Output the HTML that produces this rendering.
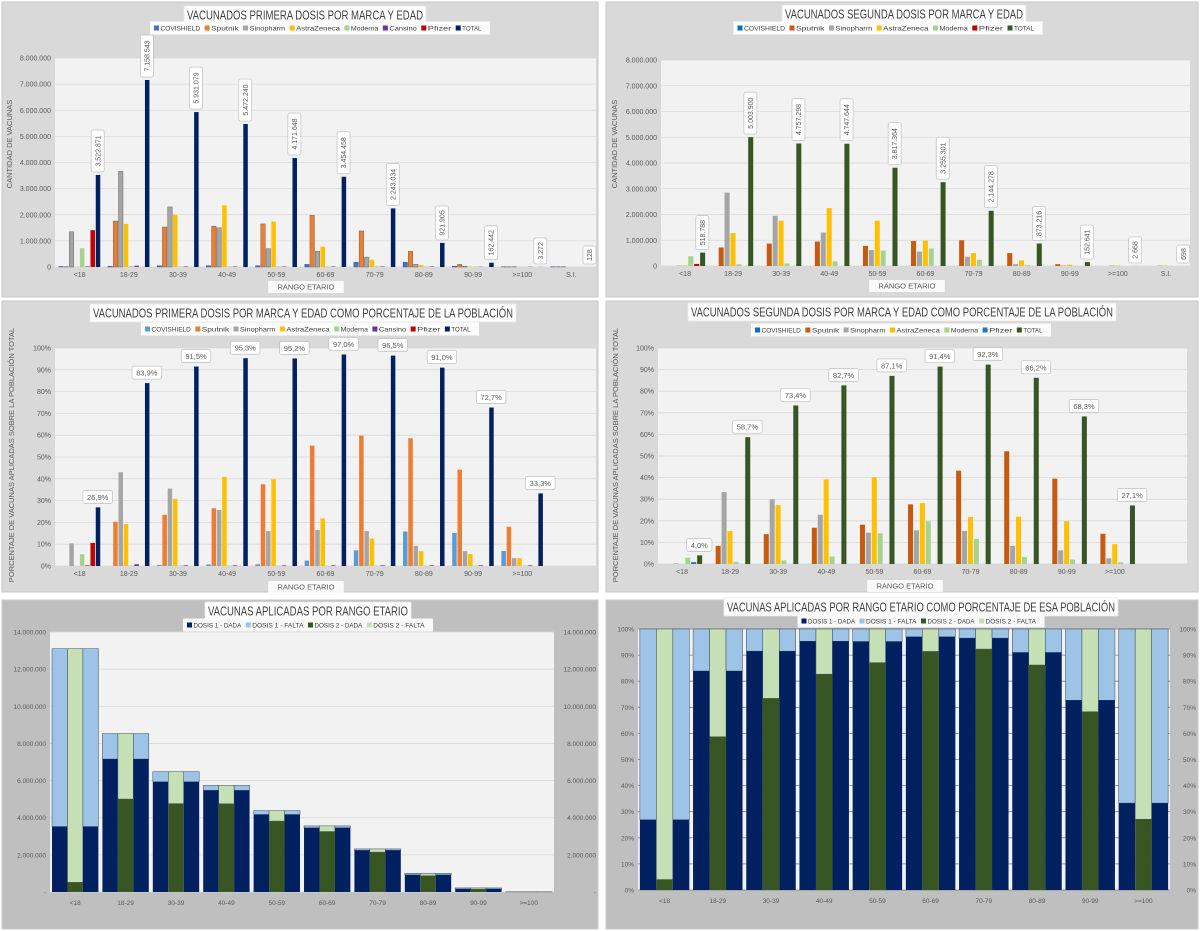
<!DOCTYPE html>
<html><head><meta charset="utf-8">
<style>
html,body{margin:0;padding:0;background:#fff;}
svg{display:block;font-family:"Liberation Sans",sans-serif;}
</style></head>
<body>
<svg id="s" width="1200" height="931" viewBox="0 0 1200 931" xmlns="http://www.w3.org/2000/svg">
<rect x="0" y="0" width="1200" height="931" fill="#ffffff"/>
</svg>
<script>
// ---- data ----
const cats11 = ['<18','18-29','30-39','40-49','50-59','60-69','70-79','80-89','90-99','>=100','S.I.'];
const cats10 = ['<18','18-29','30-39','40-49','50-59','60-69','70-79','80-89','90-99','>=100'];
const d1Covishield = [20000,30000,50000,50000,50000,100000,180000,180000,30000,10000,10000];
const d1Sputnik = [10000,1760000,1530000,1560000,1650000,1980000,1380000,600000,100000,10000,10000];
const d1Sinopharm = [1350000,3660000,2300000,1500000,700000,600000,380000,100000,30000,10000,10000];
const d1Astra = [10000,1650000,2000000,2360000,1740000,780000,280000,70000,20000,5000,0];
const d1Moderna = [720000,30000,20000,20000,20000,20000,30000,20000,20000,10000,0];
const d1Cansino = [20000,50000,20000,20000,20000,20000,20000,20000,10000,10000,0];
const d1Pfizer = [1410000,0,0,0,0,0,0,0,0,0,0];
const d1Total = [3522871,7158543,5931079,5472240,4171648,3454458,2243034,921905,162442,3272,128];
const d2Covishield = [0,0,0,0,0,0,0,0,0,0,0];
const d2Sputnik = [0,720000,870000,950000,780000,970000,1000000,500000,70000,0,0];
const d2Sinopharm = [20000,2850000,1950000,1300000,620000,560000,360000,70000,20000,20000,20000];
const d2Astra = [20000,1280000,1760000,2250000,1760000,980000,500000,220000,50000,20000,20000];
const d2Moderna = [380000,70000,100000,180000,600000,680000,240000,30000,10000,0,0];
const d2Pfizer = [80000,0,0,0,0,0,0,0,0,0,0];
const d2Total = [518788,5003900,4757298,4747644,3817364,3255301,2144278,873216,152641,2668,698];
const p1Covishield = [0,0,0.5,0.7,0.8,2.5,7.2,15.8,15.2,6.9];
const p1Sputnik = [0,20.3,23.5,26.5,37.5,55.2,59.8,58.6,44.2,18];
const p1Sinopharm = [10.4,43,35.5,25.7,16,16.5,16,9.2,6.8,3.6];
const p1Astra = [0,19.2,30.8,40.9,39.8,21.8,12.6,6.8,5.5,3.6];
const p1Moderna = [5.4,0.3,0.2,0.2,0.2,0.2,0.2,0.2,0.2,0.2];
const p1Cansino = [0.3,0.8,0.3,0.3,0.3,0.3,0.3,0.3,0.3,0.3];
const p1Pfizer = [10.6,0,0,0,0,0,0,0,0,0];
const p1Total = [26.9,83.9,91.5,95.3,95.2,97.0,96.5,91.0,72.7,33.3];
const p2Covishield = [0,0,0,0,0,0,0,0,0,0];
const p2Sputnik = [0,8.4,13.8,16.8,18.2,27.6,43.2,52.2,39.5,14];
const p2Sinopharm = [0.3,33.3,29.9,22.8,14.5,15.6,15.3,8.4,6.3,2.6];
const p2Astra = [0,15.3,27.3,39.2,40.2,28.2,21.8,21.9,19.8,9.2];
const p2Moderna = [2.9,1,1.7,3.5,14.2,19.8,11.6,3.2,2.1,0.8];
const p2Pfizer = [0.9,0,0,0,0,0,0,0,0,0];
const p2Total = [4.0,58.7,73.4,82.7,87.1,91.4,92.3,86.2,68.3,27.1];
const population = [13100000,8530000,6480000,5740000,4380000,3560000,2320000,1010000,220000,10000];
const ticksCount = [0,1000000,2000000,3000000,4000000,5000000,6000000,7000000,8000000];
const ticksPct = [0,10,20,30,40,50,60,70,80,90,100];
const ticksPop = [0,2000000,4000000,6000000,8000000,10000000,12000000,14000000];

const C = {cov:'#5b9bd5',spu:'#ed7d31',spu2:'#c55a11',sin:'#a5a5a5',ast:'#ffc000',mod:'#a9d18e',can:'#7030a0',pfi:'#c00000',pfi2:'#2e75b6',nav:'#002060',grn:'#375623',nf:'#9dc3e6',gf:'#c5e0b4'};
const NS='http://www.w3.org/2000/svg';
const svg=document.getElementById('s');
function el(tag,attrs,parent,txt){const e=document.createElementNS(NS,tag);for(const k in attrs)e.setAttribute(k,attrs[k]);if(txt!==undefined)e.textContent=txt;(parent||svg).appendChild(e);return e;}
function dots(n){return Math.round(n).toString().replace(/\B(?=(\d{3})+(?!\d))/g,'.');}

function panel(x,y,w,h,fill,name){const r=el('rect',{x:x,y:y,width:w,height:h,fill:fill,stroke:'#c8c8c8'});

}

function title(cx,cy,text,w,name){
  el('rect',{x:cx-w/2-3,y:cy-9,width:w+6,height:18,fill:'#ffffff',stroke:'#e6e6e6','stroke-width':0.8});
  const t=el('text',{x:cx-w/2,y:cy+4.5,'font-size':12.5,fill:'#404040',textLength:w,lengthAdjust:'spacingAndGlyphs'},null,text);
  
  
}
function legend(cx,cy,total,items){
  const fs=6.8;
  const chars=items.reduce((a,it)=>a+it[0].length,0);
  const inner=total-8;
  const per=(inner-items.length*10)/chars;
  let x=cx-total/2;
  el('rect',{x:x,y:cy-6.5,width:total,height:13,fill:'#ffffff',opacity:0.9});
  x+=4;
  items.forEach((it)=>{
    const g=el('g',{});
    
    
    el('rect',{x:x,y:cy-2.5,width:5,height:5,fill:it[1]},g);
    const tw=it[0].length*per-1;
    el('text',{x:x+6.5,y:cy+2.5,'font-size':fs,fill:'#404040',textLength:tw,lengthAdjust:'spacingAndGlyphs'},g,it[0]);
    x+=10+it[0].length*per;
  });
}

function chart(cfg){
  const {left,right,top,bottom,max,slots,cats,ticks,tickFmt}=cfg;
  const y=v=>bottom-(v/max)*(bottom-top);
  const band=(right-left)/slots;
  const cx=i=>left+band*(i+0.5);
  const pa=el('rect',{x:left,y:top,width:right-left,height:bottom-top,fill:'#f2f2f2'});
  
  
  ticks.forEach(t=>{
    el('line',{x1:left,x2:right,y1:y(t),y2:y(t),stroke:cfg.gridColor||'#d9d9d9','stroke-width':0.8});
    const lab=el('text',{x:left-4,y:y(t)+2.5,'font-size':cfg.tfs||7,'text-anchor':'end',fill:'#595959'},null,tickFmt(t));
    
    
    if(cfg.rightAxis){
      const lab2=el('text',{x:right+cfg.rightAxis,y:y(t)+2.5,'font-size':cfg.tfs||7,'text-anchor':'end',fill:'#595959'},null,tickFmt(t));
      
      
    }
  });
  cats.forEach((c,i)=>{
    const t=el('text',{x:cx(i),y:bottom+(cfg.lblOff||10),'font-size':cfg.tfs||7,'text-anchor':'middle',fill:'#595959'},null,c);
    
    
  });
  return {y,cx,band};
}

function grouped(cfg){
  const ax=chart(cfg);
  const n=cfg.series.length;
  const gw=ax.band*cfg.gf;
  const bw=gw/n;
  cfg.series.forEach((s,si)=>{
    s.vals.forEach((v,i)=>{
      const x=ax.cx(i)-gw/2+si*bw;
      const yt=ax.y(v);
      const r=el('rect',{x:x+0.3,y:yt,width:bw*0.85,height:Math.max(0,cfg.bottom-yt),fill:s.color,stroke:s.stroke||'none','stroke-width':0.4});
      
      
      if(s.labels){
        const txt=s.labels(v);
        const bx=x+bw*0.42;
        if(cfg.rotLabels){
          const L=txt.length*4.0+6;
          const rr=el('rect',{x:bx-6.5,y:yt-3-L,width:13,height:L,fill:'#fff',stroke:'#bfbfbf','stroke-width':0.7,rx:2});
          
          
          const cy=yt-3-L/2;
          const t=el('text',{x:bx+2.6,y:cy,'font-size':7,'text-anchor':'middle',fill:'#595959',transform:'rotate(-90 '+(bx+2.6)+' '+cy+')'},null,txt);
          
          
        } else {
          const L=txt.length*4.3+8;
          const rr=el('rect',{x:bx-L/2,y:yt-17,width:L,height:13,fill:'#fff',stroke:'#bfbfbf','stroke-width':0.7,rx:2});
          
          
          const t=el('text',{x:bx,y:yt-7.5,'font-size':7.5,'text-anchor':'middle',fill:'#595959'},null,txt);
          
          
        }
      }
    });
  });
}

function axisTitles(xt,xcx,xcy,yt,ycx,ycy){
  const w=xt.length*5.2+8;
  el('rect',{x:xcx-w/2,y:xcy-6,width:w,height:12,fill:'#fff',opacity:0.85});
  const a=el('text',{x:xcx,y:xcy+2.5,'font-size':7.5,'text-anchor':'middle',fill:'#595959'},null,xt);
  
  
  const b=el('text',{x:ycx,y:ycy,'font-size':7.5,'text-anchor':'middle',fill:'#595959',transform:'rotate(-90 '+ycx+' '+ycy+')'},null,yt);
  
  
}

// panels
panel(2,2,596,295,'#d9d9d9','panel-first-dose');
panel(606,2,592,295,'#d9d9d9','panel-second-dose');
panel(2,301,596,291,'#d9d9d9','panel-first-dose-pct');
panel(606,301,592,291,'#d9d9d9','panel-second-dose-pct');
panel(2,600,596,329,'#bfbfbf','panel-applied');
panel(606,600,592,329,'#bfbfbf','panel-applied-pct');

// chart 1
grouped({name:'first-dose',left:55,right:596,top:58,bottom:267,max:8000000,slots:11,cats:cats11,gf:0.86,ticks:ticksCount,tickFmt:v=>v?dots(v):'0',rotLabels:true,
 series:[{name:'covishield',color:'#4472c4',vals:d1Covishield,stroke:'#2f4f8f'},{name:'sputnik',color:C.spu,vals:d1Sputnik,stroke:'#555'},{name:'sinopharm',color:C.sin,vals:d1Sinopharm,stroke:'#555'},{name:'astrazeneca',color:C.ast,vals:d1Astra},{name:'moderna',color:C.mod,vals:d1Moderna},{name:'cansino',color:C.can,vals:d1Cansino},{name:'pfizer',color:C.pfi,vals:d1Pfizer},{name:'total',color:C.nav,vals:d1Total,labels:v=>dots(v)}]});
title(305,15,'VACUNADOS PRIMERA DOSIS POR MARCA Y EDAD',236,'chart-title-1');
legend(320,28,340,[['COVISHIELD','#4472c4'],['Sputnik',C.spu],['Sinopharm',C.sin],['AstraZeneca',C.ast],['Moderna',C.mod],['Cansino',C.can],['Pfizer',C.pfi],['TOTAL',C.nav]]);
axisTitles('RANGO  ETARIO',306,287,'CANTIDAD  DE  VACUNAS',12,144);

// chart 2
grouped({name:'second-dose',left:661,right:1190,top:60,bottom:266,max:8000000,slots:11,cats:cats11,gf:0.86,ticks:ticksCount,tickFmt:v=>v?dots(v):'0',rotLabels:true,
 series:[{name:'covishield',color:'#0070c0',vals:d2Covishield},{name:'sputnik',color:C.spu2,vals:d2Sputnik},{name:'sinopharm',color:C.sin,vals:d2Sinopharm},{name:'astrazeneca',color:C.ast,vals:d2Astra},{name:'moderna',color:C.mod,vals:d2Moderna},{name:'pfizer',color:C.pfi,vals:d2Pfizer},{name:'total',color:C.grn,vals:d2Total,labels:v=>dots(v)}]});
title(904,14,'VACUNADOS SEGUNDA DOSIS POR MARCA Y EDAD',238,'chart-title-2');
legend(888,28,309,[['COVISHIELD','#0070c0'],['Sputnik',C.spu2],['Sinopharm',C.sin],['AstraZeneca',C.ast],['Moderna',C.mod],['Pfizer',C.pfi],['TOTAL',C.grn]]);
axisTitles('RANGO  ETARIO',907,286,'CANTIDAD  DE  VACUNAS',617,144);

// chart 3
grouped({name:'first-dose-pct',left:55,right:596,top:348,bottom:566,max:100,slots:11,cats:cats10,gf:0.86,ticks:ticksPct,tickFmt:v=>v+'%',
 series:[{name:'covishield',color:C.cov,vals:p1Covishield},{name:'sputnik',color:C.spu,vals:p1Sputnik},{name:'sinopharm',color:C.sin,vals:p1Sinopharm},{name:'astrazeneca',color:C.ast,vals:p1Astra},{name:'moderna',color:C.mod,vals:p1Moderna},{name:'cansino',color:C.can,vals:p1Cansino},{name:'pfizer',color:C.pfi,vals:p1Pfizer},{name:'total',color:C.nav,vals:p1Total,labels:v=>v.toFixed(1).replace('.',',')+'%'}]});
title(303,313,'VACUNADOS PRIMERA DOSIS POR MARCA Y EDAD COMO PORCENTAJE DE LA POBLACIÓN',420,'chart-title-3');
legend(310,329,338,[['COVISHIELD',C.cov],['Sputnik',C.spu],['Sinopharm',C.sin],['AstraZeneca',C.ast],['Moderna',C.mod],['Cansino',C.can],['Pfizer',C.pfi],['TOTAL',C.nav]]);
axisTitles('RANGO  ETARIO',306,587,'PORCENTAJE  DE  VACUNAS  APLICADAS  SOBRE  LA  POBLACIÓN  TOTAL',14,455);

// chart 4
grouped({name:'second-dose-pct',left:658,right:1187,top:348,bottom:564,max:100,slots:11,cats:cats10,gf:0.86,ticks:ticksPct,tickFmt:v=>v+'%',
 series:[{name:'covishield',color:'#2e75b6',vals:p2Covishield},{name:'sputnik',color:C.spu2,vals:p2Sputnik},{name:'sinopharm',color:C.sin,vals:p2Sinopharm},{name:'astrazeneca',color:C.ast,vals:p2Astra},{name:'moderna',color:C.mod,vals:p2Moderna},{name:'pfizer',color:C.pfi2,vals:p2Pfizer},{name:'total',color:C.grn,vals:p2Total,labels:v=>v.toFixed(1).replace('.',',')+'%'}]});
title(902,312,'VACUNADOS SEGUNDA DOSIS POR MARCA Y EDAD COMO PORCENTAJE DE LA POBLACIÓN',422,'chart-title-4');
legend(901,330,300,[['COVISHIELD','#0070c0'],['Sputnik',C.spu2],['Sinopharm',C.sin],['AstraZeneca',C.ast],['Moderna',C.mod],['Pfizer',C.pfi2],['TOTAL',C.grn]]);
axisTitles('RANGO  ETARIO',905,586,'PORCENTAJE  DE  VACUNAS  APLICADAS  SOBRE  LA  POBLACIÓN  TOTAL',618,455);

// stacked charts
function stacked(cfg,g1,g2,full){
  const ax=chart(cfg);
  const gw=ax.band*cfg.gf, bw=gw/3;
  cats10.forEach((c,i)=>{
    const x0=ax.cx(i)-gw/2;
    [[0,C.nav,C.nf,g1[i]],[1,C.grn,C.gf,g2[i]],[2,C.nav,C.nf,g1[i]]].forEach(b=>{
      const x=x0+b[0]*bw;
      const yTop=ax.y(full[i]), yMid=ax.y(b[3]);
      const r1=el('rect',{x:x,y:yTop,width:bw,height:Math.max(0,yMid-yTop),fill:b[2],stroke:'#3a4a5a','stroke-width':0.5});
      
      
      const r2=el('rect',{x:x,y:yMid,width:bw,height:cfg.bottom-yMid,fill:b[1]});
      
      
    });
  });
}
stacked({name:'applied',left:50,right:554,top:632,bottom:892,max:14000000,slots:10,cats:cats10,gf:0.92,ticks:ticksPop,tickFmt:v=>v?dots(v):'-',rightAxis:42,tfs:6.5,lblOff:13},d1Total,d2Total,population);
title(308,611,'VACUNAS APLICADAS POR RANGO ETARIO',200,'chart-title-5');
legend(308,625,250,[['DOSIS 1 - DADA',C.nav],['DOSIS 1 - FALTA',C.nf],['DOSIS 2 - DADA',C.grn],['DOSIS 2 - FALTA',C.gf]]);

stacked({name:'applied-pct',left:638,right:1170,top:629,bottom:890,max:100,slots:10,cats:cats10,gf:0.93,ticks:ticksPct,tickFmt:v=>v+'%',rightAxis:26,tfs:6.5,gridColor:'#7f7f7f',lblOff:13},p1Total,p2Total,population.map(()=>100));
title(921,607,'VACUNAS APLICADAS POR RANGO ETARIO COMO PORCENTAJE DE ESA POBLACIÓN',388,'chart-title-6');
legend(921,621,247,[['DOSIS 1 - DADA',C.nav],['DOSIS 1 - FALTA',C.nf],['DOSIS 2 - DADA',C.grn],['DOSIS 2 - FALTA',C.gf]]);
</script>
</body></html>
